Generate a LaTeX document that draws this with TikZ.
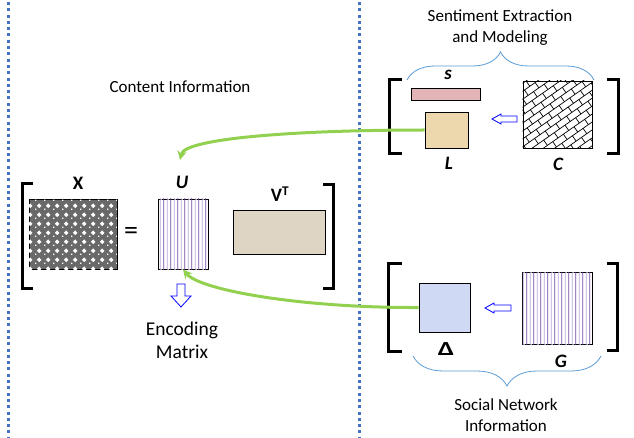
\documentclass[tikz,border=0pt]{standalone}
\usepackage{fontspec}
\setmainfont{Carlito}
\usetikzlibrary{patterns,patterns.meta,decorations.pathreplacing,arrows}

\definecolor{sepblue}{RGB}{68,114,196}
\definecolor{arrgreen}{RGB}{146,208,80}
\definecolor{bracecol}{RGB}{91,155,213}
\definecolor{vbeige}{RGB}{222,213,196}
\definecolor{spink}{RGB}{226,180,182}
\definecolor{ltan}{RGB}{236,216,172}
\definecolor{dlav}{RGB}{208,217,243}
\definecolor{darkpurp}{RGB}{112,70,160}
\definecolor{lightpurp}{RGB}{185,165,215}
\definecolor{xgray}{RGB}{105,105,105}

% Streifen fuer U und G
\pgfdeclarepattern{
  name=purplestripes, type=colored,
  bottom left={\pgfpoint{0pt}{0pt}}, top right={\pgfpoint{7.4pt}{4pt}},
  tile size={\pgfpoint{7.4pt}{4pt}},
  code={
    \pgfsetlinewidth{0.8pt}
    \pgfsetstrokecolor{darkpurp}
    \pgfpathmoveto{\pgfpoint{1.85pt}{-1pt}}\pgfpathlineto{\pgfpoint{1.85pt}{5pt}}
    \pgfusepath{stroke}
    \pgfsetstrokecolor{lightpurp}
    \pgfpathmoveto{\pgfpoint{5.55pt}{-1pt}}\pgfpathlineto{\pgfpoint{5.55pt}{5pt}}
    \pgfusepath{stroke}
  }}
% Rauten fuer X
\pgfdeclarepattern{
  name=xdiamonds, type=uncolored,
  bottom left={\pgfpoint{0pt}{0pt}}, top right={\pgfpoint{8.7pt}{8.7pt}},
  tile size={\pgfpoint{8.7pt}{8.7pt}},
  code={
    \pgfpathmoveto{\pgfpoint{4.35pt}{2pt}}\pgfpathlineto{\pgfpoint{6.7pt}{4.35pt}}
    \pgfpathlineto{\pgfpoint{4.35pt}{6.7pt}}\pgfpathlineto{\pgfpoint{2pt}{4.35pt}}
    \pgfpathclose
    \pgfpathrectangle{\pgfpoint{0pt}{0pt}}{\pgfpoint{1.4pt}{1.4pt}}
    \pgfusepath{fill}
  }}

\tikzset{
  txt/.style={font=\fontsize{17}{21}\selectfont, align=center},
  lbl/.style={font=\fontsize{19}{20}\selectfont\bfseries},
  ilbl/.style={font=\fontsize{19}{20}\selectfont\bfseries\itshape},
  mat/.style={draw=black, line width=0.8pt, inner sep=0pt},
  sep/.style={sepblue, line width=3pt, dash pattern=on 3pt off 3.3pt},
  bracket/.style={line width=3pt},
  link/.style={arrgreen, line width=3pt, ->},
  hollow/.style={draw=blue, line width=0.8pt, fill=white},
  brace/.style={bracecol, line width=0.8pt, decorate},
}

\begin{document}
\begin{tikzpicture}[x=1pt, y=-1pt, >=stealth]
  \useasboundingbox (0,0) rectangle (634,438);

  % Trennlinien
  \draw[sep] (8,2) -- (8,438);
  \draw[sep] (359,2) -- (359,438);

  % linke Seite: X = U V^T
  \node[txt] (content) at (180,87) {Content Information};
  \draw[bracket] (33,184) -- (22,184) -- (22,288) -- (33,288);
  \draw[bracket] (323,185) -- (333,185) -- (333,288) -- (323,288);

  \node[mat, fill=xgray, postaction={pattern=xdiamonds, pattern color=white},
    minimum width=88pt, minimum height=70pt] (X) at (73,234) {};
  \node[lbl] (Xlab) at (78,183) {X};
  \node[font=\fontsize{28}{28}\selectfont] (eq) at (131,233) {=};
  \node[mat, fill=white, postaction={pattern=purplestripes},
    minimum width=50pt, minimum height=70pt] (U) at (183,234) {};
  \node[ilbl] (Ulab) at (182,182) {U};
  \node[mat, fill=vbeige, minimum width=92pt, minimum height=44pt] (V) at (279,232) {};
  \node[lbl] (Vlab) at (280,194) {V\textsuperscript{T}};

  \draw[hollow] (177,284) -- (185,284) -- (185,296) -- (191,296) -- (181,307)
    -- (171,296) -- (177,296) -- cycle;
  \node[txt, font=\fontsize{19.5}{23}\selectfont] (enc) at (182,340) {Encoding\\Matrix};

  % oben rechts
  \node[txt] (senti) at (500,28) {Sentiment Extraction\\and Modeling};
  \draw[brace, decoration={brace, amplitude=28pt}] (407,80) -- (594,80);
  \draw[bracket] (402,80) -- (389,80) -- (389,154) -- (402,154);
  \draw[bracket] (607,80) -- (618,80) -- (618,154) -- (607,154);
  \node[mat, fill=spink, minimum width=69pt, minimum height=12pt] (S) at (445.5,94) {};
  \node[ilbl] (Slab) at (448,75) {s};
  \node[mat, fill=ltan, minimum width=43pt, minimum height=36pt] (L) at (446.5,130) {};
  \node[ilbl] (Llab) at (449,163) {L};
  \node[mat, fill=white, minimum width=69pt, minimum height=67pt] (C) at (557.5,114.5) {};
  % Ziegel in C
  \begin{scope}
    \clip (C.north west) rectangle (C.south east);
    \begin{scope}[shift={(C.center)}, rotate=35, line width=0.7pt]
      \foreach \k in {-10,...,10} {
        \draw (-70,6.5*\k) -- (70,6.5*\k);
        \foreach \m in {-6,...,6}
          \draw ({13*\m+6.5*mod(abs(\k),2)},6.5*\k) -- ++(0,6.5);
      }
    \end{scope}
  \end{scope}
  \node[mat, minimum width=69pt, minimum height=67pt] at (C) {};
  \node[ilbl] (Clab) at (558,164) {C};
  \draw[hollow] (492,119) -- (501,114) -- (501,116) -- (517,116) -- (517,122)
    -- (501,122) -- (501,124) -- cycle;

  % unten rechts
  \draw[bracket] (402,264) -- (388,264) -- (388,351) -- (402,351);
  \draw[bracket] (607,264) -- (617,264) -- (617,350) -- (607,350);
  \node[mat, fill=dlav, minimum width=51pt, minimum height=49pt] (D) at (444.5,307.5) {};
  \node[lbl] (Dlab) at (446,349) {\scalebox{1.5}[1.05]{Δ}};
  \node[mat, fill=white, postaction={pattern=purplestripes},
    minimum width=70pt, minimum height=72pt] (G) at (557,308) {};
  \node[ilbl] (Glab) at (561,361) {G};
  \draw[hollow] (485,308) -- (494,303) -- (494,305) -- (511,305) -- (511,311)
    -- (494,311) -- (494,313) -- cycle;
  \draw[brace, decoration={brace, amplitude=30pt}] (601,356) -- (413,356);
  \node[txt] (social) at (506,415) {Social Network\\Information};

  % Verbindungen
  \coordinate (Utip) at (180,160);
  \draw[link] (L.west) .. controls (300,130) and (185,138) .. (Utip);
  \draw[link] (D.west) .. controls (300,308) and (200,290) .. (U.south);
\end{tikzpicture}
\end{document}
